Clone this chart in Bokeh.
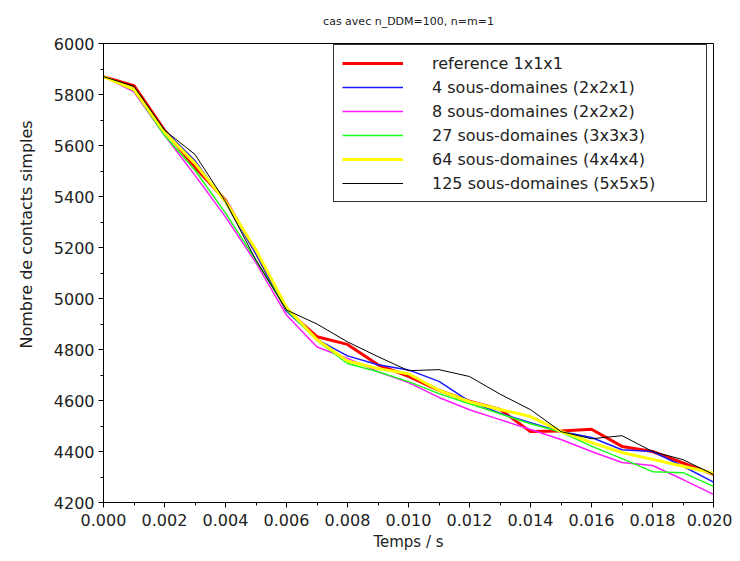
from bokeh.plotting import figure
from bokeh.models import (FixedTicker, NumeralTickFormatter, Legend, LegendItem,
                          Title, Range1d)
from bokeh.embed import file_html
from bokeh.resources import INLINE

# ---- data ----
temps = [0.000, 0.001, 0.002, 0.003, 0.004, 0.005, 0.006, 0.007, 0.008, 0.009, 0.010,
         0.011, 0.012, 0.013, 0.014, 0.015, 0.016, 0.017, 0.018, 0.019, 0.020]

reference_1x1x1 = [5870, 5835, 5660, 5515, 5385, 5180, 4955, 4850, 4820, 4740, 4695,
                   4640, 4597, 4565, 4478, 4480, 4487, 4420, 4400, 4355, 4310]
sd4_2x2x1 = [5870, 5820, 5660, 5540, 5375, 5175, 4950, 4840, 4775, 4740, 4720,
             4675, 4597, 4550, 4513, 4478, 4455, 4407, 4400, 4342, 4280]
sd8_2x2x2 = [5870, 5810, 5640, 5483, 5320, 5140, 4935, 4810, 4765, 4713, 4670,
             4612, 4564, 4525, 4486, 4447, 4400, 4357, 4345, 4290, 4232]
sd27_3x3x3 = [5870, 5815, 5640, 5503, 5335, 5150, 4955, 4835, 4745, 4713, 4674,
              4627, 4587, 4548, 4509, 4476, 4421, 4372, 4321, 4317, 4263]
sd64_4x4x4 = [5870, 5820, 5652, 5530, 5380, 5190, 4965, 4838, 4755, 4725, 4705,
              4640, 4595, 4565, 4537, 4479, 4435, 4396, 4369, 4342, 4315]
sd125_5x5x5 = [5870, 5832, 5660, 5565, 5380, 5150, 4955, 4900, 4830, 4772, 4717,
               4721, 4694, 4625, 4564, 4478, 4450, 4462, 4400, 4368, 4310]

series_labels = ["reference 1x1x1",
                 "4 sous-domaines (2x2x1)",
                 "8 sous-domaines (2x2x2)",
                 "27 sous-domaines (3x3x3)",
                 "64 sous-domaines (4x4x4)",
                 "125 sous-domaines (5x5x5)"]
series_values = [reference_1x1x1, sd4_2x2x1, sd8_2x2x2, sd27_3x3x3, sd64_4x4x4, sd125_5x5x5]
series_colors = ["#ff0000", "#1a1aff", "#ff1aff", "#1aff1a", "#ffff00", "#000000"]
series_widths = [3, 1.5, 1.5, 1.5, 3, 1]

x_ticks = [0.000, 0.002, 0.004, 0.006, 0.008, 0.010, 0.012, 0.014, 0.016, 0.018, 0.020]
x_minor = [0.001, 0.003, 0.005, 0.007, 0.009, 0.011, 0.013, 0.015, 0.017, 0.019]
y_ticks = [4200, 4400, 4600, 4800, 5000, 5200, 5400, 5600, 5800, 6000]
y_minor = [4300, 4500, 4700, 4900, 5100, 5300, 5500, 5700, 5900]

FONT = "DejaVu Sans"
TXT = "#222222"

p = figure(width=732, height=553, output_backend="svg", toolbar_location=None,
           x_range=Range1d(0.0, 0.020), y_range=Range1d(4200, 6000),
           min_border_left=102, min_border_right=19, min_border_top=43,
           min_border_bottom=50, title="cas avec n_DDM=100, n=m=1")

p.title.align = "center"
p.title.vertical_align = "top"
p.title.text_font = FONT
p.title.text_font_size = "11px"
p.title.text_font_style = "normal"
p.title.text_color = TXT
p.title.standoff = 27

p.xgrid.visible = False
p.ygrid.visible = False
p.outline_line_color = "black"
p.outline_line_alpha = 1
p.outline_line_width = 1
p.background_fill_color = "white"
p.border_fill_color = "white"

p.xaxis.ticker = FixedTicker(ticks=x_ticks, minor_ticks=x_minor)
p.xaxis.formatter = NumeralTickFormatter(format="0.000")
p.yaxis.ticker = FixedTicker(ticks=y_ticks, minor_ticks=y_minor)

for ax in (p.xaxis[0], p.yaxis[0]):
    ax.axis_line_color = "black"
    ax.major_tick_line_color = "black"
    ax.minor_tick_line_color = "black"
    ax.major_tick_out = 5
    ax.major_tick_in = 0
    ax.minor_tick_out = 3
    ax.minor_tick_in = 0
    ax.major_label_text_font = FONT
    ax.major_label_text_font_size = "16px"
    ax.major_label_text_color = TXT
    ax.major_label_standoff = 4

p.xaxis.major_label_standoff = 6
p.xaxis.axis_label = "Temps / s"
p.xaxis.axis_label_text_font = FONT
p.xaxis.axis_label_text_font_size = "15px"
p.xaxis.axis_label_text_font_style = "normal"
p.xaxis.axis_label_text_color = TXT
p.xaxis.axis_label_standoff = 4

ytitle = Title(text="Nombre de contacts simples", align="left", offset=154,
               vertical_align="bottom", standoff=29,
               text_font=FONT, text_font_size="16px", text_font_style="normal",
               text_color=TXT)
p.add_layout(ytitle, "left")

items = []
for lab, vals, col, w in zip(series_labels, series_values, series_colors, series_widths):
    r = p.line(temps, vals, line_color=col, line_width=w)
    items.append(LegendItem(label=lab, renderers=[r]))

legend = Legend(items=items, location=(230, 300), padding=8, spacing=4, margin=0,
                glyph_width=61, glyph_height=20, label_standoff=29,
                label_width=266, label_height=20,
                label_text_font=FONT, label_text_font_size="16px",
                label_text_color=TXT,
                border_line_color="#333333", border_line_width=1, border_line_alpha=1,
                background_fill_color="white", background_fill_alpha=1)
p.add_layout(legend)

open("out.html", "w").write(file_html(p, INLINE))
